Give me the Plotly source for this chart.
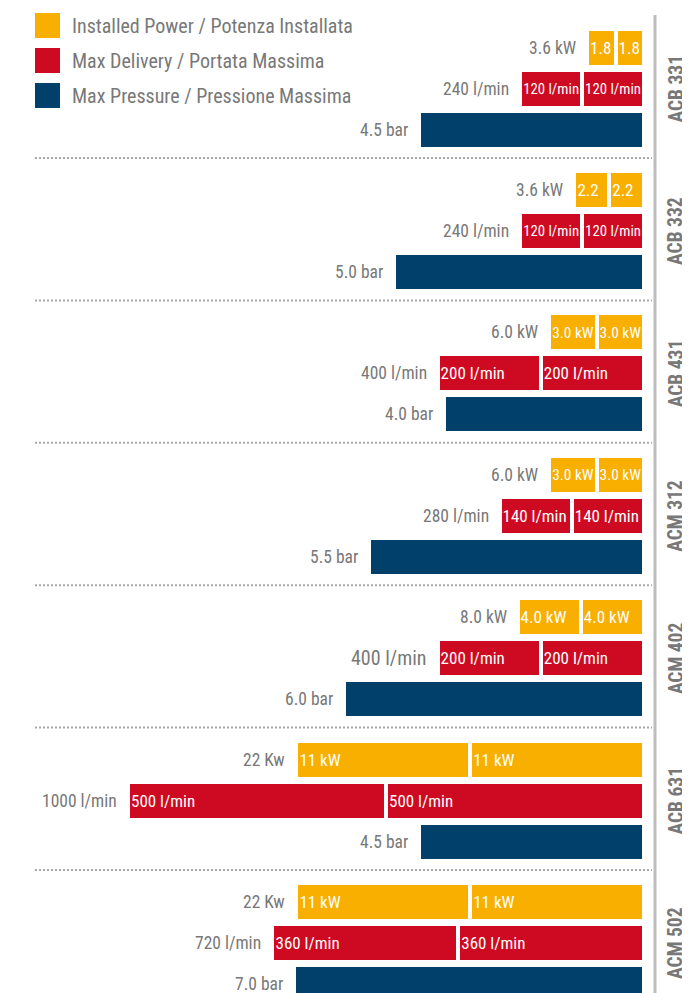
import plotly.graph_objects as go

# ---- data ----
models = ["ACB 331", "ACB 332", "ACB 431", "ACM 312", "ACM 402", "ACB 631", "ACM 502"]
power_half = [1.8, 2.2, 3.0, 3.0, 4.0, 11, 11]
power_half_labels = ["1.8", "2.2", "3.0 kW", "3.0 kW", "4.0 kW", "11 kW", "11 kW"]
power_total_labels = ["3.6 kW", "3.6 kW", "6.0 kW", "6.0 kW", "8.0 kW", "22 Kw", "22 Kw"]
delivery_half = [120, 120, 200, 140, 200, 500, 360]
delivery_half_labels = ["120 l/min", "120 l/min", "200 l/min", "140 l/min", "200 l/min", "500 l/min", "360 l/min"]
delivery_total_labels = ["240 l/min", "240 l/min", "400 l/min", "280 l/min", "400 l/min", "1000 l/min", "720 l/min"]
pressure = [4.5, 5.0, 4.0, 5.5, 6.0, 4.5, 7.0]
pressure_labels = ["4.5 bar", "5.0 bar", "4.0 bar", "5.5 bar", "6.0 bar", "4.5 bar", "7.0 bar"]
legend_labels = ["Installed Power / Potenza Installata",
                 "Max Delivery / Portata Massima",
                 "Max Pressure / Pressione Massima"]

# ---- style ----
WIN_W, WIN_H = 690, 993
OFF = 8                      # default page body margin
FW, FH = WIN_W - OFF, WIN_H - OFF
YELLOW, RED, NAVY = "#F8AF00", "#CE0A22", "#00406A"
GRAY = "#787878"
FONT = "Liberation Sans Narrow, Arial Narrow, Roboto Condensed, Roboto, sans-serif"
RIGHT_PX = 644
GROUP_PITCH = 142.4
ROW_PITCH = 41
FIRST_CENTER = 47.5
BAR_W = 38

def px(x):
    """window pixel x -> paper fraction"""
    return (x - OFF) / FW

n = len(models)
y_power = [FIRST_CENTER + GROUP_PITCH * k for k in range(n)]
y_deliv = [v + ROW_PITCH for v in y_power]
y_press = [v + 2 * ROW_PITCH for v in y_power]

fig = go.Figure()
line = dict(color="white", width=4)
tfont = dict(family=FONT, size=17, color="white")

for xa, ys, vals, labels, color in [
    ("x", y_power, power_half, power_half_labels, YELLOW),
    ("x2", y_deliv, delivery_half, delivery_half_labels, RED),
]:
    for _ in range(2):
        fig.add_trace(go.Bar(
            x=vals, y=ys, orientation="h", width=BAR_W, xaxis=xa, yaxis="y",
            marker=dict(color=color, line=line),
            text=labels, textposition="inside", insidetextanchor="end",
            textfont=tfont, showlegend=False, hoverinfo="skip"))

fig.add_trace(go.Bar(
    x=pressure, y=y_press, orientation="h", width=BAR_W, xaxis="x3", yaxis="y",
    marker=dict(color=NAVY, line=line), showlegend=False, hoverinfo="skip"))

annotations = []
for k in range(n):
    annotations.append(dict(x=2 * power_half[k], y=y_power[k], xref="x", yref="y",
                            text=power_total_labels[k], showarrow=False, xanchor="right",
                            xshift=-9, font=dict(family=FONT, size=17.5, color=GRAY)))
    annotations.append(dict(x=2 * delivery_half[k], y=y_deliv[k], xref="x2", yref="y",
                            text=delivery_total_labels[k], showarrow=False, xanchor="right",
                            xshift=-9, font=dict(family=FONT, size=20 if k == 4 else 17.5, color=GRAY)))
    annotations.append(dict(x=pressure[k], y=y_press[k], xref="x3", yref="y",
                            text=pressure_labels[k], showarrow=False, xanchor="right",
                            xshift=-9, font=dict(family=FONT, size=17.5, color=GRAY)))
    annotations.append(dict(x=px(676), y=y_deliv[k], xref="paper", yref="y",
                            text="<b>%s</b>" % models[k], textangle=-90, showarrow=False,
                            xanchor="center", yanchor="middle",
                            font=dict(family=FONT, size=19.5, color=GRAY)))

shapes = []
# legend
for i, (lab, col) in enumerate(zip(legend_labels, [YELLOW, RED, NAVY])):
    top = 13 + 35 * i
    shapes.append(dict(type="rect", xref="paper", yref="y", x0=px(35), x1=px(60),
                       y0=top, y1=top + 25, fillcolor=col, line=dict(width=0)))
    annotations.append(dict(x=px(70), y=top + 12.5, xref="paper", yref="y", text=lab,
                            showarrow=False, xanchor="left",
                            font=dict(family=FONT, size=20, color=GRAY)))
# separators
for k in range(n - 1):
    ysep = y_press[k] + 28.5
    shapes.append(dict(type="line", xref="paper", yref="y", x0=px(35), x1=px(652),
                       y0=ysep, y1=ysep, line=dict(color="#A8A8A8", width=2, dash="2px,2px")))
# vertical rule
shapes.append(dict(type="line", xref="paper", yref="y", x0=px(655), x1=px(655),
                   y0=15, y1=WIN_H, line=dict(color="#BDBDBD", width=3)))

plot_px = RIGHT_PX - OFF
dom = [0, plot_px / FW]
common = dict(visible=False, domain=dom, fixedrange=True)
fig.update_layout(
    width=FW, height=FH, margin=dict(l=0, r=0, t=0, b=0),
    paper_bgcolor="white", plot_bgcolor="white", barmode="stack",
    xaxis=dict(range=[plot_px / 15.8, 0], **common),
    xaxis2=dict(range=[plot_px / 0.516, 0], overlaying="x", **common),
    xaxis3=dict(range=[plot_px / 50.0, 0], overlaying="x", **common),
    yaxis=dict(range=[WIN_H, OFF], visible=False, domain=[0, 1], fixedrange=True),
    shapes=shapes, annotations=annotations,
)
fig.write_html("out.html")
